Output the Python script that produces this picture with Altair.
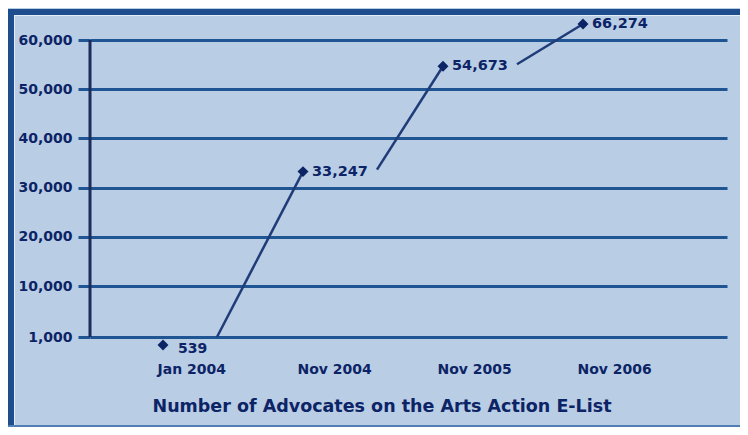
import altair as alt
import pandas as pd

# ---- data ----
dates = ["Jan 2004", "Nov 2004", "Nov 2005", "Nov 2006"]
advocates = [539, 33247, 54673, 66274]
y_ticks = [1000, 10000, 20000, 30000, 40000, 50000, 60000]
title_text = "Number of Advocates on the Arts Action E-List"

# ---- styling ----
BG = "#b9cde4"
NAVY = "#0c2466"
GRID = "#1f5593"
AXIS = "#1b2d5c"
LINE = "#1f3c78"
FRAME = "#1d4d8d"
FONT = "DejaVu Sans"

df = pd.DataFrame({"i": range(len(dates)), "date": dates, "v": advocates})
seg = df.copy()
seg["i2"] = seg["i"].shift(-1)
seg["v2"] = seg["v"].shift(-1)
seg = seg.dropna()

label_list = "[" + ",".join("'" + d + "'" for d in dates) + "]"

x_scale = alt.Scale(domain=[-0.5214, 4.0286], nice=False, zero=False)
# the reference's vertical axis is not strictly linear: piecewise scale
y_scale = alt.Scale(
    domain=[advocates[0], y_ticks[0], y_ticks[1], y_ticks[-1], advocates[-1]],
    range=[321, 313, 262, 16, 0],
    nice=False,
    zero=False,
)

x_enc = alt.X(
    "i:Q",
    scale=x_scale,
    axis=alt.Axis(
        values=list(range(len(dates))),
        labelExpr=label_list + "[datum.value]",
        grid=False,
        domain=False,
        ticks=False,
        tickSize=0,
        labelAlign="left",
        labelOffset=-6,
        labelBaseline="alphabetic",
        labelPadding=28,
        labelFont=FONT,
        labelFontWeight="bold",
        labelFontSize=14,
        labelColor=NAVY,
        title=title_text,
        titleX=62,
        titleY=66,
        titleAlign="left",
        titleAnchor="start",
        titleBaseline="alphabetic",
        titleFont=FONT,
        titleFontWeight="bold",
        titleFontSize=17.5,
        titleColor=NAVY,
    ),
)
y_enc = alt.Y(
    "v:Q",
    scale=y_scale,
    axis=alt.Axis(
        values=y_ticks,
        labelExpr="format(datum.value, ',')",
        grid=True,
        gridColor=GRID,
        gridWidth=3,
        gridOpacity=1,
        domain=False,
        tickSize=12,
        tickWidth=3,
        tickColor=GRID,
        labelPadding=6,
        labelFont=FONT,
        labelFontWeight="bold",
        labelFontSize=14,
        labelColor=NAVY,
        labelBaseline="middle",
        title=None,
    ),
)

base = alt.Chart(df)

# frame decoration
frame_left = base.mark_rect(color=FRAME).encode(
    x=alt.value(-82), x2=alt.value(-76), y=alt.value(-15), y2=alt.value(403)
)
frame_top = base.mark_rect(color=FRAME).encode(
    x=alt.value(-82), x2=alt.value(650), y=alt.value(-15), y2=alt.value(-9)
)
frame_bottom = base.mark_rule(color="#4f7fb5", strokeWidth=2).encode(
    x=alt.value(-82), x2=alt.value(650), y=alt.value(402)
)
hl_left = base.mark_rule(color="#e3edf7", strokeWidth=1).encode(
    x=alt.value(-75.5), y=alt.value(-9), y2=alt.value(401)
)
hl_top = base.mark_rule(color="#e3edf7", strokeWidth=1).encode(
    x=alt.value(-76), x2=alt.value(650), y=alt.value(-8.5)
)

grid_layer = base.mark_point(opacity=0).encode(x=x_enc, y=y_enc)

y_axis_line = alt.Chart(pd.DataFrame({"a": [y_ticks[0]], "b": [y_ticks[-1]]})).mark_rule(
    color=AXIS, strokeWidth=3
).encode(x=alt.value(0), y=alt.Y("a:Q", scale=y_scale), y2="b:Q")

seg_first = alt.Chart(seg).transform_filter("datum.i == 0").mark_rule(
    color=LINE, strokeWidth=2.5, xOffset=54, yOffset=-8
).encode(x=alt.X("i:Q", scale=x_scale), y=alt.Y("v:Q", scale=y_scale), x2="i2:Q", y2="v2:Q")

seg_rest = alt.Chart(seg).transform_filter("datum.i > 0").mark_rule(
    color=LINE, strokeWidth=2.5, xOffset=74, yOffset=-2
).encode(x=alt.X("i:Q", scale=x_scale), y=alt.Y("v:Q", scale=y_scale), x2="i2:Q", y2="v2:Q")

diamonds = base.mark_point(
    shape="diamond", filled=True, size=120, color=NAVY, opacity=1
).encode(x=alt.X("i:Q", scale=x_scale), y=alt.Y("v:Q", scale=y_scale))

labels_first = base.transform_filter("datum.i == 0").mark_text(
    align="left", baseline="middle", dx=15, dy=4, font=FONT, fontWeight="bold",
    fontSize=14, color=NAVY
).encode(
    x=alt.X("i:Q", scale=x_scale), y=alt.Y("v:Q", scale=y_scale),
    text=alt.Text("v:Q", format=","),
)

labels_rest = base.transform_filter("datum.i > 0").mark_text(
    align="left", baseline="middle", dx=9, dy=0, font=FONT, fontWeight="bold",
    fontSize=14.5, color=NAVY
).encode(
    x=alt.X("i:Q", scale=x_scale), y=alt.Y("v:Q", scale=y_scale),
    text=alt.Text("v:Q", format=","),
)

chart = alt.layer(
    frame_left, frame_top, frame_bottom, hl_left, hl_top,
    grid_layer, y_axis_line, seg_first, seg_rest, diamonds, labels_first, labels_rest,
).properties(
    width=637,
    height=321,
    background=BG,
    padding={"left": 82, "top": 16, "right": 13, "bottom": 82},
    autosize=alt.AutoSizeParams(type="none"),
).configure_view(stroke=None)

chart.save("out.html", embed_options={"renderer": "svg", "actions": False})
